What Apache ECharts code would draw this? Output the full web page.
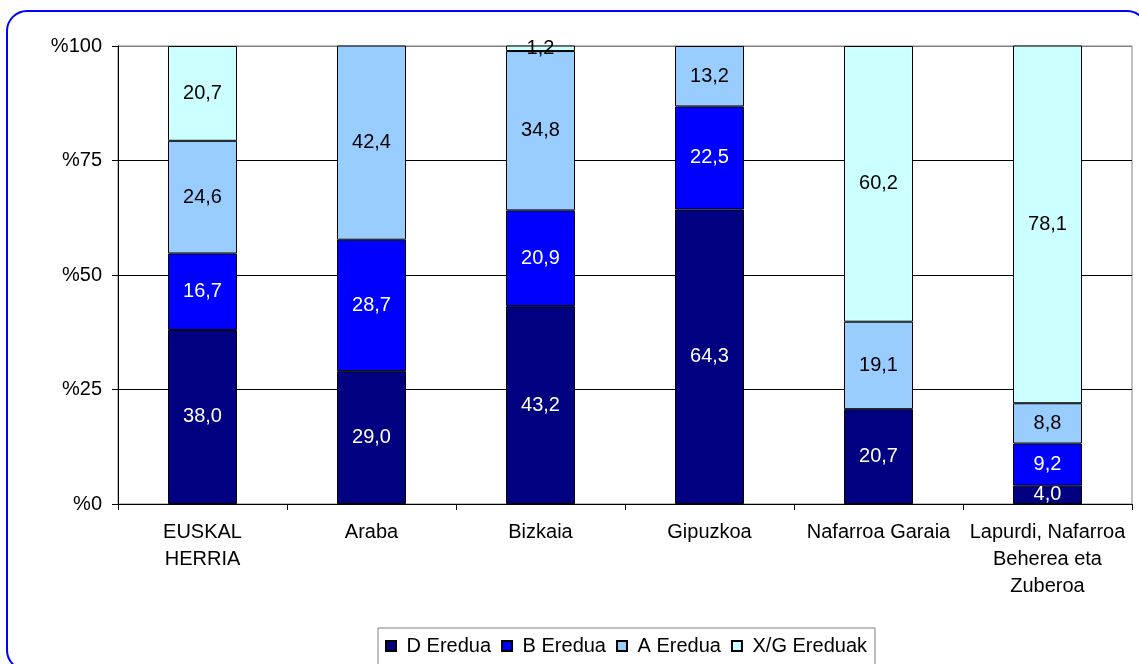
<!DOCTYPE html>
<html>
<head>
<meta charset="utf-8">
<script src="https://cdn.jsdelivr.net/npm/echarts@6/dist/echarts.min.js"></script>
<style>
  html, body { margin: 0; padding: 0; background: #fff; }
  #chart { width: 1139px; height: 664px; }
</style>
</head>
<body>
<div id="chart"></div>
<script>
// categories and series values (percent)
const categories = ['EUSKAL\nHERRIA', 'Araba', 'Bizkaia', 'Gipuzkoa', 'Nafarroa Garaia', 'Lapurdi, Nafarroa\nBeherea eta\nZuberoa']
const dEredua = [38.0, 29.0, 43.2, 64.3, 20.7, 4.0]
const bEredua = [16.7, 28.7, 20.9, 22.5, null, 9.2]
const aEredua = [24.6, 42.4, 34.8, 13.2, 19.1, 8.8]
const xgEreduak = [20.7, null, 1.2, null, 60.2, 78.1]
const yTicks = [0, 25, 50, 75, 100]

const font = 'Liberation Sans, Arial, sans-serif'

// etiketa: koma hamartarra
const fmt = (p) => (p.value == null ? '' : p.value.toFixed(1).replace('.', ','))

const makeSeries = (name, data, color, labelColor) => ({
  name,
  type: 'bar',
  stack: 'total',
  barWidth: 69,
  data,
  itemStyle: { color, borderColor: '#000', borderWidth: 1 },
  label: {
    show: true,
    position: 'inside',
    formatter: fmt,
    color: labelColor,
    fontFamily: font,
    fontSize: 20
  },
  emphasis: { disabled: true }
})

const chart = echarts.init(document.getElementById('chart'), null, { renderer: 'canvas' })

const option = {
  animation: false,
  backgroundColor: '#fff',
  graphic: [{
    type: 'rect',
    shape: { x: 7, y: 11, width: 1140, height: 659, r: 20 },
    style: { fill: 'none', stroke: '#0000ff', lineWidth: 2 },
    z: -1
  }],
  grid: {
    left: 118, right: 7, top: 46, bottom: 160,
    show: true, borderColor: '#808080', borderWidth: 1
  },
  legend: {
    left: 378, top: 628,
    orient: 'horizontal',
    padding: [8, 8, 14, 7],
    itemWidth: 10, itemHeight: 10, itemGap: 10,
    icon: 'rect',
    borderColor: '#808080', borderWidth: 1,
    formatter: (n) => ' ' + n,
    textStyle: { fontFamily: font, fontSize: 20, color: '#000' },
    data: ['D Eredua', 'B Eredua', 'A Eredua', 'X/G Ereduak']
  },
  xAxis: {
    type: 'category',
    data: categories,
    axisLine: { lineStyle: { color: '#000' } },
    axisTick: { show: true, length: 6, lineStyle: { color: '#000' } },
    axisLabel: {
      color: '#000', fontFamily: font, fontSize: 20, lineHeight: 27,
      margin: 15, interval: 0
    }
  },
  yAxis: {
    type: 'value',
    min: yTicks[0], max: yTicks[yTicks.length - 1], interval: 25,
    axisLine: { show: true, lineStyle: { color: '#000' } },
    axisTick: { show: true, length: 6, lineStyle: { color: '#000' } },
    axisLabel: {
      color: '#000', fontFamily: font, fontSize: 20, margin: 16,
      formatter: (v) => '%' + v
    },
    splitLine: { lineStyle: { color: ['#000', '#000', '#000', '#000', '#808080'], width: 1 } }
  },
  series: [
    makeSeries('D Eredua', dEredua, '#000080', '#fff'),
    makeSeries('B Eredua', bEredua, '#0000ff', '#fff'),
    makeSeries('A Eredua', aEredua, '#99ccff', '#000'),
    makeSeries('X/G Ereduak', xgEreduak, '#ccffff', '#000')
  ]
}

chart.setOption(option)
</script>
</body>
</html>
